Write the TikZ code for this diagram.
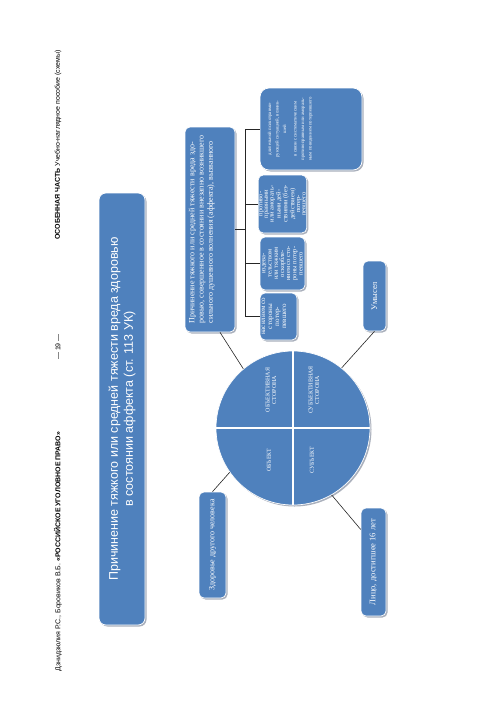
\documentclass[tikz,border=0pt]{standalone}
\usepackage{fontspec}
\setmainfont{Liberation Serif}
\newfontfamily\hdrfont{Liberation Sans}
\usetikzlibrary{shadows,calc}
\definecolor{bblue}{RGB}{79,129,189}
\definecolor{rim}{RGB}{170,176,188}
\newcommand{\fs}[2]{\fontsize{#1}{#2}\selectfont}
\begin{document}
\begin{tikzpicture}[x=1pt,y=-1pt,
  blue box/.style={rotate=90, fill=bblue, draw=white, line width=0.7pt, rounded corners=5pt,
     drop shadow={shadow xshift=1.5pt, shadow yshift=-1.5pt, opacity=1, fill=rim},
     text=white, align=center, inner sep=1pt},
  txt/.style={rotate=90, text=white, align=center, inner sep=0pt},
  hdr/.style={rotate=90, font=\hdrfont\fs{7}{8}, inner sep=0pt},
  link/.style={draw=black!85, line width=0.6pt}]
\useasboundingbox[fill=white] (0,0) rectangle (500,707);

% running heads
\node[hdr, anchor=west] (hleft) at (58,672) {Дзнидзюлия Р.С., Боровиков В.Б. \textbf{«РОССИЙСКОЕ УГОЛОВНОЕ ПРАВО»}};
\node[hdr] (hpage) at (58,347) {— 19 —};
\node[hdr, anchor=east] (hright) at (58,50) {\textbf{ОСОБЕННАЯ ЧАСТЬ} Учебно-наглядное пособие (схемы)};

% title
\node[blue box, rounded corners=7pt, minimum width=432pt, minimum height=46pt, font=\hdrfont\fs{12.5}{15}] (title) at (122,409)
  {Причинение тяжкого или средней тяжести вреда здоровью\\в состоянии аффекта (ст. 113 УК)};

% description box
\node[blue box, minimum width=205pt, minimum height=50pt] (desc) at (210,229.5) {};
\node[txt, anchor=north, align=left, font=\fs{8}{9.3}] (desct) at ([xshift=4pt]desc.north)
  {Причинение тяжкого или средней тяжести вреда здо-\\ровью, совершенное в состоянии внезапно возникшего\\сильного душевного волнения (аффекта), вызванного};

% four cause boxes
\node[blue box, minimum width=47pt, minimum height=37pt] (b1) at (278.5,316.5) {};
\node[txt, anchor=north, font=\fs{7}{7}] (b1t) at ([xshift=2pt]b1.north) {насилием со\\стороны\\потер-\\певшего};
\node[blue box, minimum width=53pt, minimum height=45pt, font=\fs{6.5}{6.2}] (b2) at (282.5,263.5)
  {издева-\\тельством\\или тяжким\\оскорбле-\\нием со сто-\\роны потер-\\певшего};
\node[blue box, minimum width=58pt, minimum height=45pt, font=\fs{6.5}{5.7}] (b3) at (282.5,204)
  {противо-\\правными\\или амораль-\\ными дей-\\ствиями (без-\\действием)\\потер-\\певшего};
\node[blue box, rounded corners=9pt, minimum width=82pt, minimum height=102pt] (b4) at (311,129) {};
\node[txt, anchor=north, font=\fs{4.8}{7.5}] (b4t) at ([xshift=8pt]b4.north)
  {длительной психотравми-\\рующей ситуацией, возник-\\шей\\[3pt]в связи с систематическим\\противоправным или амораль-\\ным поведением потерпевшего};

% bracket
\coordinate (brk) at (245,0);
\draw[link] (desc.south) -- (desc.south -| brk);
\draw[link] (b4.north -| brk) -- (b1.north -| brk);
\foreach \b in {b1,b2,b3,b4} \draw[link] (\b.north -| brk) -- (\b.north);

% small boxes
\node[blue box, minimum width=70pt, minimum height=23pt, font=\fs{8.5}{10}] (um) at (374.5,296) {Умысел};
\node[blue box, minimum width=106pt, minimum height=27pt, font=\fs{8}{10}] (zd) at (212.5,545) {Здоровье другого человека};
\node[blue box, minimum width=108pt, minimum height=25pt, font=\fs{8.5}{10}] (lit) at (373.5,562) {Лицо, достигшее 16 лет};

% circle
\node[circle, fill=bblue, draw=white, line width=0.7pt, minimum size=154pt, inner sep=0pt,
      drop shadow={shadow xshift=1.5pt, shadow yshift=-1.5pt, opacity=1, fill=rim}] (circ) at (293,428) {};
\draw[white, line width=1.8pt] (circ.north) -- (circ.south) (circ.west) -- (circ.east);
\node[txt, font=\fs{6}{6.5}] (qa) at (271,390) {ОБЪЕКТИВНАЯ\\СТОРОНА};
\node[txt, font=\fs{6}{6.5}] (qb) at (314,390) {СУБЪЕКТИВНАЯ\\СТОРОНА};
\node[txt, font=\fs{6}{6.5}] (qc) at (269,460) {ОБЪЕКТ};
\node[txt, font=\fs{6}{6.5}] (qd) at (312,460) {СУБЪЕКТ};

% connectors
\draw[link] (circ.130) -- ([xshift=10pt]desc.west);
\draw[link] (circ.51) -- (um.west);
\draw[link] (circ.215) -- (zd.east);
\draw[link] (circ.300) -- ($(lit.north east)!0.2!(lit.north west)$);
\end{tikzpicture}
\end{document}
